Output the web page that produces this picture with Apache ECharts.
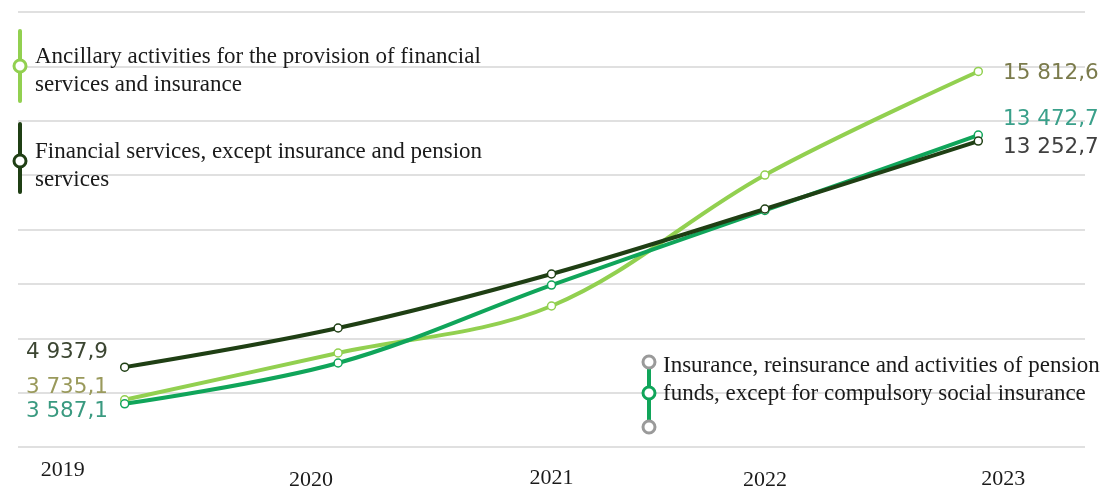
<!DOCTYPE html>
<html>
<head>
<meta charset="utf-8">
<script src="https://cdn.jsdelivr.net/npm/echarts@6/dist/echarts.min.js"></script>
<style>
html,body{margin:0;padding:0;background:#fff;}
#chart{width:1108px;height:496px;}
</style>
</head>
<body>
<div id="chart"></div>
<script>
// ---- data ----
const years = ['2019', '2020', '2021', '2022', '2023'];
const ancillary = [3735.1, 5457, 7186, 12004, 15812.6];
const financial = [4937.9, 6377, 8363, 10754, 13252.7];
const insurance = [3587.1, 5090, 7958, 10700, 13472.7];
const seriesNames = [
  'Ancillary activities for the provision of financial services and insurance',
  'Financial services, except insurance and pension services',
  'Insurance, reinsurance and activities of pension funds, except for compulsory social insurance'
];
const yMin = 2000, yMax = 18000, yStep = 2000;

// ---- styling ----
const C_LIGHT = '#92d050', C_DARK = '#1f3f14', C_TEAL = '#10a55a';

function fmt(v) {
  const parts = v.toFixed(1).split('.');
  const int = parts[0].replace(/\B(?=(\d{3})+(?!\d))/g, ' ');
  return int + ',' + parts[1];
}

function buildData(values, startLabel, endLabel) {
  const last = values.length - 1;
  return values.map((v, i) => {
    const item = { value: v };
    if (i === 0) item.label = Object.assign({ show: true, position: 'left' }, startLabel);
    else if (i === last) item.label = Object.assign({ show: true, position: 'right' }, endLabel);
    return item;
  });
}

const valFont = { fontFamily: 'DejaVu Sans', fontSize: 21.5 };

function lineSeries(name, values, color, z, startLabel, endLabel) {
  return {
    name: name,
    type: 'line',
    smooth: 0.35,
    z: z,
    data: buildData(values,
      Object.assign({}, valFont, startLabel),
      Object.assign({}, valFont, endLabel)),
    symbol: 'circle',
    symbolSize: 8,
    showAllSymbol: true,
    lineStyle: { color: color, width: 4 },
    itemStyle: { color: '#ffffff', borderColor: color, borderWidth: 1.5 },
    label: { show: false, formatter: p => fmt(p.value) }
  };
}

const xf = { fontFamily: 'Liberation Serif', fontSize: 22, color: '#1a1a1a' };
const xLabelRich = {
  a0: Object.assign({ padding: [0, 124, 0, 0] }, xf),
  a1: Object.assign({ padding: [10, 54, 0, 0] }, xf),
  a2: Object.assign({ padding: [8, 0, 0, 0] }, xf),
  a3: Object.assign({ padding: [10, 0, 0, 0] }, xf),
  a4: Object.assign({ padding: [9, 0, 0, 50] }, xf)
};

const legendText = { fontFamily: 'Liberation Serif', fontSize: 23, fill: '#1a1a1a', lineHeight: 28 };

function legendLine(x, y1, y2, color) {
  return { type: 'line', shape: { x1: x, y1: y1, x2: x, y2: y2 },
    style: { stroke: color, lineWidth: 4, lineCap: 'round' }, z: 10 };
}
function legendDot(x, y, color) {
  return { type: 'circle', shape: { cx: x, cy: y, r: 6 },
    style: { fill: '#ffffff', stroke: color, lineWidth: 3 }, z: 11 };
}

const chart = echarts.init(document.getElementById('chart'), null, { renderer: 'canvas' });
chart.setOption({
  animation: false,
  backgroundColor: '#ffffff',
  grid: { left: 18, right: 23, top: 12, bottom: 49 },
  xAxis: {
    type: 'category',
    data: years,
    boundaryGap: true,
    axisLine: { show: false },
    axisTick: { show: false },
    axisLabel: {
      margin: 12,
      formatter: (v, i) => '{a' + i + '|' + v + '}',
      rich: xLabelRich
    }
  },
  yAxis: {
    type: 'value',
    min: yMin, max: yMax, interval: yStep,
    axisLabel: { show: false },
    axisLine: { show: false },
    axisTick: { show: false },
    splitLine: { lineStyle: { color: '#d6d6d6', width: 1.5 } }
  },
  series: [
    lineSeries(seriesNames[0], ancillary, C_LIGHT, 3,
      { color: '#9a9a5c', distance: 12, offset: [0, -12] },
      { color: '#7b7b4c', distance: 20, offset: [0, 2] }),
    lineSeries(seriesNames[2], insurance, C_TEAL, 4,
      { color: '#3a9a80', distance: 12, offset: [0, 8] },
      { color: '#3aa08a', distance: 20, offset: [0, -16] }),
    lineSeries(seriesNames[1], financial, C_DARK, 5,
      { color: '#3c4632', distance: 12, offset: [0, -15] },
      { color: '#404040', distance: 20, offset: [0, 6] })
  ],
  graphic: [
    legendLine(20, 31, 101, C_LIGHT),
    legendDot(20, 66, C_LIGHT),
    { type: 'text', left: 35, top: 43, z: 12,
      style: Object.assign({ text: 'Ancillary activities for the provision of financial\nservices and insurance' }, legendText) },
    legendLine(20, 124, 192, C_DARK),
    legendDot(20, 161, C_DARK),
    { type: 'text', left: 35, top: 138, z: 12,
      style: Object.assign({ text: 'Financial services, except insurance and pension\nservices' }, legendText) },
    legendLine(649, 364, 424, C_TEAL),
    legendDot(649, 362, '#9a9a9a'),
    legendDot(649, 393, C_TEAL),
    legendDot(649, 427, '#9a9a9a'),
    { type: 'text', left: 663, top: 352, z: 12,
      style: Object.assign({ text: 'Insurance, reinsurance and activities of pension\nfunds, except for compulsory social insurance' }, legendText) }
  ]
});
</script>
</body>
</html>
